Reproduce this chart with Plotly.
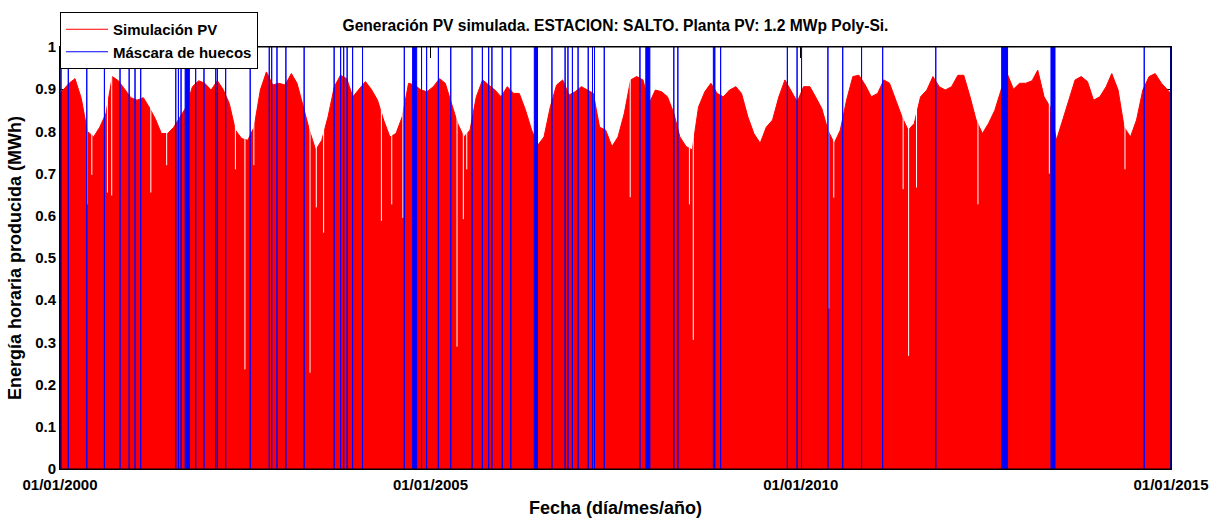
import pandas as pd
import plotly.graph_objects as go

# ---------------- data ----------------
# monthly envelope of hourly PV energy (MWh), Jan-2000 .. Dec-2014
envelope = [
    0.89, 0.914, 0.925, 0.878, 0.80, 0.787, 0.81, 0.843, 0.93, 0.92, 0.90, 0.88,
    0.874, 0.88, 0.858, 0.83, 0.795, 0.795, 0.81, 0.835, 0.858, 0.906, 0.92, 0.914,
    0.898, 0.92, 0.90, 0.866, 0.803, 0.783, 0.779, 0.81, 0.898, 0.941, 0.91, 0.914,
    0.91, 0.937, 0.914, 0.858, 0.803, 0.756, 0.779, 0.835, 0.906, 0.933, 0.925, 0.882,
    0.90, 0.918, 0.90, 0.874, 0.827, 0.787, 0.795, 0.835, 0.914, 0.91, 0.898, 0.894,
    0.906, 0.925, 0.914, 0.866, 0.819, 0.787, 0.803, 0.882, 0.922, 0.91, 0.898, 0.882,
    0.906, 0.89, 0.89, 0.85, 0.803, 0.768, 0.787, 0.858, 0.91, 0.922, 0.886, 0.894,
    0.906, 0.898, 0.89, 0.81, 0.803, 0.764, 0.787, 0.843, 0.922, 0.93, 0.922, 0.866,
    0.898, 0.894, 0.882, 0.843, 0.787, 0.764, 0.756, 0.858, 0.894, 0.914, 0.89, 0.882,
    0.898, 0.906, 0.89, 0.835, 0.795, 0.772, 0.81, 0.827, 0.882, 0.922, 0.894, 0.87,
    0.906, 0.906, 0.882, 0.854, 0.803, 0.772, 0.803, 0.874, 0.93, 0.933, 0.91, 0.882,
    0.89, 0.922, 0.914, 0.874, 0.835, 0.803, 0.819, 0.882, 0.898, 0.93, 0.906, 0.898,
    0.906, 0.933, 0.933, 0.882, 0.827, 0.795, 0.819, 0.85, 0.898, 0.937, 0.90, 0.914,
    0.914, 0.92, 0.945, 0.882, 0.858, 0.779, 0.827, 0.874, 0.922, 0.93, 0.918, 0.874,
    0.882, 0.906, 0.937, 0.898, 0.81, 0.787, 0.827, 0.898, 0.93, 0.937, 0.914, 0.89,
]

# isolated low-production days (date, MWh)
dip_dates = [
    "2000-05-14", "2000-06-06", "2000-08-22", "2000-09-12", "2001-03-24",
    "2001-06-10", "2001-09-30", "2002-05-15", "2002-07-01", "2002-08-14",
    "2003-05-18", "2003-06-18", "2003-07-24", "2004-05-04", "2004-06-24",
    "2004-08-18", "2005-05-12", "2005-06-12", "2005-06-29", "2007-09-13",
    "2008-07-01", "2008-07-20", "2010-05-19", "2010-06-13", "2011-05-21",
    "2011-06-17", "2011-07-26", "2012-05-24", "2013-05-11", "2014-05-19",
]
dip_values = [
    0.627, 0.697, 0.655, 0.648, 0.655,
    0.72, 0.614, 0.71, 0.236, 0.72,
    0.228, 0.62, 0.56, 0.588, 0.627,
    0.595, 0.29, 0.592, 0.71, 0.644,
    0.627, 0.306, 0.38, 0.643, 0.663,
    0.268, 0.667, 0.627, 0.70, 0.71,
]

# data gaps (start, end)
gap_start = [
    "2000-01-06", "2000-02-11", "2000-05-12", "2000-08-07", "2000-10-23",
    "2000-12-07", "2001-01-05", "2001-02-02", "2001-07-25", "2001-08-07",
    "2001-08-20", "2001-09-09", "2001-10-31", "2001-12-11", "2002-02-07",
    "2002-02-15", "2002-03-28", "2002-07-27", "2002-10-29", "2002-11-10",
    "2002-12-06", "2003-01-19", "2003-04-19", "2003-09-14", "2003-10-16",
    "2003-10-31", "2003-11-17", "2003-12-14", "2004-02-01", "2004-08-25",
    "2004-10-05", "2004-11-18", "2004-12-13", "2005-02-09", "2005-04-11",
    "2005-07-25", "2005-09-14", "2005-10-15", "2005-10-31", "2005-12-21",
    "2006-02-01", "2006-05-28", "2006-08-23", "2006-10-27", "2006-11-10",
    "2006-12-02", "2006-12-30", "2007-02-18", "2007-03-11", "2007-03-21",
    "2007-05-08", "2007-10-31", "2007-11-29", "2008-04-15", "2008-05-05",
    "2008-10-27", "2008-12-02", "2009-10-27", "2009-12-14", "2010-01-05",
    "2010-05-15", "2010-07-27", "2010-10-28", "2011-02-09", "2011-10-29",
    "2012-09-18", "2013-05-19", "2014-08-22", "2014-12-30",
]
gap_end = [
    "2000-01-06", "2000-02-11", "2000-05-12", "2000-08-07", "2000-10-23",
    "2000-12-07", "2001-01-05", "2001-02-02", "2001-07-25", "2001-08-07",
    "2001-08-20", "2001-09-30", "2001-10-31", "2001-12-11", "2002-02-07",
    "2002-02-15", "2002-03-28", "2002-07-27", "2002-10-29", "2002-11-10",
    "2002-12-06", "2003-01-19", "2003-04-19", "2003-09-14", "2003-10-16",
    "2003-10-31", "2003-11-17", "2003-12-14", "2004-02-01", "2004-08-25",
    "2004-10-25", "2004-11-18", "2004-12-13", "2005-02-09", "2005-04-11",
    "2005-07-25", "2005-09-14", "2005-10-15", "2005-10-31", "2005-12-21",
    "2006-02-01", "2006-06-13", "2006-08-23", "2006-10-27", "2006-11-10",
    "2006-12-02", "2006-12-30", "2007-02-18", "2007-03-11", "2007-03-21",
    "2007-05-08", "2007-10-31", "2007-12-19", "2008-04-15", "2008-05-05",
    "2008-11-04", "2008-12-02", "2009-10-27", "2009-12-14", "2010-01-05",
    "2010-05-15", "2010-07-27", "2010-10-28", "2011-02-09", "2011-10-29",
    "2012-10-17", "2013-06-08", "2014-08-22", "2014-12-30",
]

x_tick_dates = ["2000-01-01", "2005-01-01", "2010-01-01", "2015-01-01"]
x_tick_labels = ["01/01/2000", "01/01/2005", "01/01/2010", "01/01/2015"]
y_tick_vals = [0, 0.1, 0.2, 0.3, 0.4, 0.5, 0.6, 0.7, 0.8, 0.9, 1]
y_tick_labels = ["0", "0.1", "0.2", "0.3", "0.4", "0.5", "0.6", "0.7", "0.8", "0.9", "1"]

# ---------------- figure ----------------
month_dates = list(pd.date_range("2000-01-01", periods=len(envelope), freq="MS") + pd.Timedelta(days=14))
month_dates[0] = pd.Timestamp("2000-01-01")
month_dates[-1] = pd.Timestamp("2014-12-31")

FONT = "Liberation Sans, Arial, Helvetica, sans-serif"

fig = go.Figure()

fig.add_trace(go.Scatter(
    x=month_dates, y=envelope, mode="lines",
    line=dict(color="#FF0000", width=1), fill="tozeroy", fillcolor="#FF0000",
    showlegend=False, hoverinfo="skip"))

dx, dy = [], []
for d, v in zip(dip_dates, dip_values):
    dx += [d, d, None]
    dy += [v, 1, None]
fig.add_trace(go.Scatter(x=dx, y=dy, mode="lines", line=dict(color="#FFFFFF", width=1),
                         showlegend=False, hoverinfo="skip"))

gx, gy = [], []
for s, e in zip(gap_start, gap_end):
    gx += [s, s, e, e, s, None]
    gy += [0, 1, 1, 0, 0, None]
fig.add_trace(go.Scatter(x=gx, y=gy, mode="lines", fill="toself", fillcolor="#0000FF",
                         line=dict(color="#0000FF", width=1),
                         showlegend=False, hoverinfo="skip"))

# legend entries
fig.add_trace(go.Scatter(x=[None], y=[None], mode="lines", name="Simulación PV",
                         line=dict(color="#FF0000", width=1)))
fig.add_trace(go.Scatter(x=[None], y=[None], mode="lines", name="Máscara de huecos",
                         line=dict(color="#0000FF", width=1)))

fig.update_layout(
    width=1210, height=518,
    margin=dict(l=60, r=39, t=47, b=49),
    paper_bgcolor="white", plot_bgcolor="white",
    font=dict(family=FONT, size=15, color="black", weight="bold"),
    title=dict(text="Generación PV simulada. ESTACION: SALTO. Planta PV: 1.2 MWp Poly-Si.",
               x=0.5, xref="paper", xanchor="center",
               y=1 - 26 / 518, yref="container", yanchor="middle",
               font=dict(size=15.6, family=FONT, weight="bold")),
    legend=dict(x=0, y=1 + 35 / 422, xanchor="left", yanchor="top",
                bgcolor="white", bordercolor="black", borderwidth=1,
                font=dict(size=15, family=FONT, weight="bold"),
                itemwidth=42, tracegroupgap=0),
    xaxis=dict(type="date", range=["2000-01-01", "2015-01-01"],
               tickvals=x_tick_dates, ticktext=x_tick_labels,
               ticks="inside", ticklen=11, tickcolor="black",
               showline=True, linecolor="black", mirror="ticks",
               showgrid=False, zeroline=False, layer="below traces",
               automargin=False, ticklabelstandoff=2,
               tickfont=dict(size=15, family=FONT, weight="bold"),
               title=dict(text="Fecha (día/mes/año)", standoff=9,
                          font=dict(size=18, family=FONT, weight="bold"))),
    yaxis=dict(range=[0, 1], tickvals=y_tick_vals, ticktext=y_tick_labels,
               ticks="inside", ticklen=11, tickcolor="black",
               showline=True, linecolor="black", mirror="ticks",
               showgrid=False, zeroline=False, layer="below traces",
               automargin=False,
               tickfont=dict(size=15, family=FONT, weight="bold"),
               title=dict(text="Energía horaria producida (MWh)", standoff=8,
                          font=dict(size=18, family=FONT, weight="bold"))),
    shapes=[dict(type="rect", xref="paper", yref="paper", x0=0, y0=0, x1=1, y1=1,
                 line=dict(color="black", width=1), layer="above")],
)

fig.write_html("out.html")
